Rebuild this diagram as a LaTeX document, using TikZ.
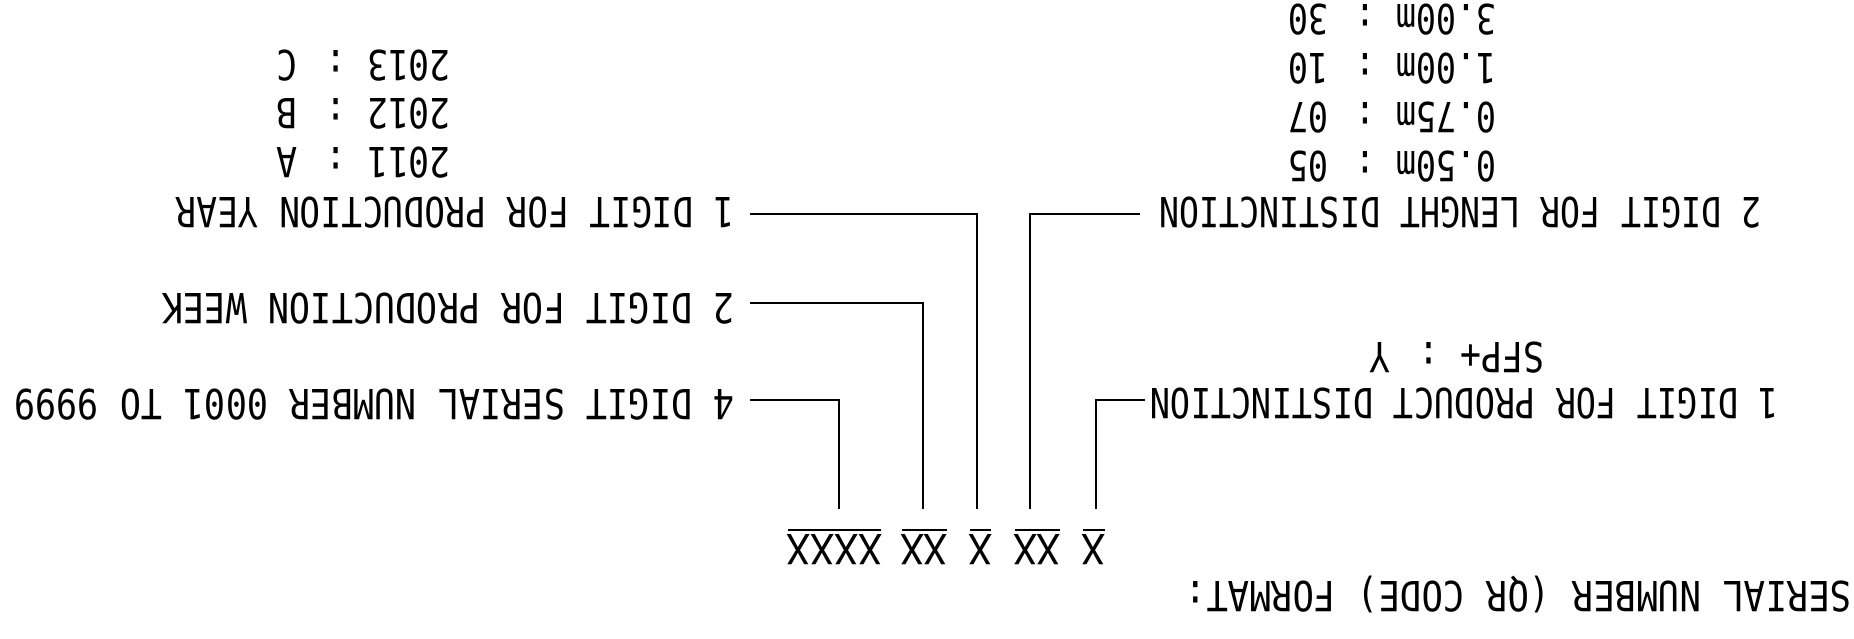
\documentclass[tikz,border=0pt]{standalone}
\usepackage{fontspec}
\newfontfamily\cad[FakeStretch=0.82]{DejaVu Sans Mono}
\newfontfamily\cadx[FakeStretch=0.95]{DejaVu Sans Mono}
\tikzset{
  lbl/.style={rotate=180, inner sep=0pt, text height=30.25pt, text depth=0pt,
    font=\cad\fontsize{41.5pt}{45pt}\selectfont},
  xmark/.style={rotate=180, inner sep=0pt, text height=30.25pt, text depth=0pt,
    font=\cadx\fontsize{41.5pt}{45pt}\selectfont},
  conn/.style={draw=black, line width=2pt},
  bar/.style={draw=black, line width=2pt, shorten <=1.5pt, shorten >=1.5pt}
}
\begin{document}
\begin{tikzpicture}[x=1pt,y=-1pt]
\useasboundingbox (0,0) rectangle (1854,638);
% title
\node[lbl, anchor=west, xscale=1.05] (title) at (1852,596.5) {SERIAL NUMBER (QR CODE) FORMAT:};
% X marks
\node[xmark] (xa) at (834.6,550) {XXXX};
\node[xmark] (xb) at (924.2,550) {XX};
\node[xmark] (xc) at (980.8,550) {X};
\node[xmark] (xd) at (1037.2,550) {XX};
\node[xmark] (xe) at (1094,550) {X};
\foreach \n in {xa,xb,xc,xd,xe}{
  \draw[bar] ([yshift=5pt]\n.south west) -- ([yshift=5pt]\n.south east);
}
% labels left
\node[lbl, anchor=west, xscale=1.01] (ly) at (735,212.5) {1 DIGIT FOR PRODUCTION YEAR};
\node[lbl, anchor=west, xscale=1.035] (lw) at (735,308.5) {2 DIGIT FOR PRODUCTION WEEK};
\node[lbl, anchor=west, xscale=1.035] (ls) at (735,404.5) {4 DIGIT SERIAL NUMBER 0001 TO 9999};
% labels right
\node[lbl, anchor=east, xscale=0.98] (ll) at (1159,212.5) {2 DIGIT FOR LENGHT DISTINCTION};
\node[lbl, anchor=east, xscale=0.99] (lp) at (1150,403.5) {1 DIGIT FOR PRODUCT DISTINCTION};
% year list
\node[lbl, anchor=west, xscale=1.02] (y1) at (451,162.5) {2011 : A};
\node[lbl, anchor=west, xscale=1.02] (y2) at (451,114) {2012 : B};
\node[lbl, anchor=west, xscale=1.02] (y3) at (451,66) {2013 : C};
% length list
\node[lbl, anchor=west, xscale=0.985] (m1) at (1497,167) {0.50m : 05};
\node[lbl, anchor=west, xscale=0.985] (m2) at (1497,118) {0.75m : 07};
\node[lbl, anchor=west, xscale=0.985] (m3) at (1497,69) {1.00m : 10};
\node[lbl, anchor=west, xscale=0.985] (m4) at (1497,20) {3.00m : 30};
% product list
\node[lbl, anchor=west, xscale=1.03] (p1) at (1545,357.5) {SFP+ : Y};
% connectors
\draw[conn] ([xshift=4.4pt,yshift=26pt]xa.south) |- ([xshift=15pt,yshift=4.5pt]ls.west);
\draw[conn] ([xshift=-0.9pt,yshift=26pt]xb.south) |- ([xshift=15pt,yshift=5.5pt]lw.west);
\draw[conn] ([xshift=-4.1pt,yshift=26pt]xc.south) |- ([xshift=15pt,yshift=-1.5pt]ly.west);
\draw[conn] ([xshift=-7.2pt,yshift=26pt]xd.south) |- ([xshift=-19pt,yshift=-1.5pt]ll.east);
\draw[conn] ([xshift=2pt,yshift=26pt]xe.south) |- ([xshift=-5pt,yshift=4pt]lp.east);
\end{tikzpicture}
\end{document}
